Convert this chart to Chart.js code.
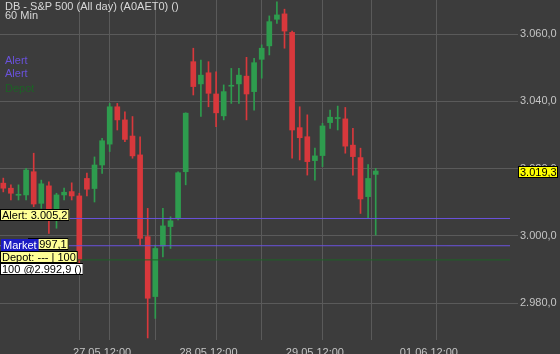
<!DOCTYPE html>
<html><head><meta charset="utf-8">
<script src="https://cdn.jsdelivr.net/npm/chart.js@4/dist/chart.umd.min.js"></script>
<style>
html,body{margin:0;padding:0;background:#3c3c3c;overflow:hidden}
#wrap{position:relative;width:560px;height:354px}
canvas{display:block}
</style></head><body>
<div id="wrap"><canvas id="c" width="560" height="354"></canvas></div>
<script>
// ---- text ----
const titleLines = ['DB - S&P 500 (All day) (A0AET0) ()', '60 Min'];
const legendItems = ['Alert', 'Alert', 'Depot'];
// ---- x axis (hourly candle index) ----
const xLabelPos = [13, 27, 41, 56];
const xLabels = ['27.05 12:00', '28.05 12:00', '29.05 12:00', '01.06 12:00'];
const xGridPos = [11, 15, 25, 29, 39, 43, 54, 58];
// ---- y axis ----
const yTicks = [2980, 3000, 3020, 3040, 3060];
// ---- OHLC series ----
const open = [3015.7, 3014.2, 3012.1, 3012.2, 3019.1, 3009.7, 3014.9, 3007.7, 3012.2, 3013.2,
  3011.9, 3017.1, 3014.1, 3021.1, 3027.3, 3038.4, 3034.5, 3029.7, 3024.1, 2999.8,
  2982.0, 2997.0, 3002.8, 3005.4, 3019.1, 3051.8, 3045.2, 3048.5, 3042.2, 3035.7,
  3044.5, 3045.2, 3047.5, 3042.9, 3052.5, 3056.5, 3064.4, 3066.0, 3060.5, 3032.2,
  3029.5, 3022.4, 3023.9, 3033.7, 3034.9, 3034.8, 3027.0, 3023.3, 3011.7, 3018.3];
const high = [3017.2, 3015.2, 3015.2, 3020.1, 3024.6, 3016.6, 3016.1, 3012.7, 3014.2, 3015.8,
  3012.7, 3018.7, 3023.5, 3029.0, 3039.4, 3039.4, 3036.9, 3035.5, 3029.5, 3008.2,
  2997.3, 3008.2, 3005.7, 3019.1, 3036.6, 3055.8, 3052.3, 3051.8, 3048.8, 3044.9,
  3049.8, 3049.8, 3053.1, 3052.8, 3056.8, 3065.4, 3069.6, 3067.4, 3060.9, 3038.4,
  3036.0, 3026.1, 3033.5, 3037.4, 3038.6, 3038.2, 3032.0, 3026.1, 3021.2, 3020.1];
const low = [3013.1, 3010.7, 3010.7, 3010.7, 3008.7, 3008.2, 3000.8, 3002.3, 3010.7, 3010.7,
  2991.9, 3011.9, 3010.1, 3018.6, 3025.1, 3031.5, 3028.0, 3023.1, 2997.3, 2969.7,
  2975.5, 2993.8, 2996.3, 3004.8, 3015.2, 3041.9, 3035.5, 3038.4, 3032.5, 3034.5,
  3039.4, 3039.4, 3034.5, 3037.4, 3046.9, 3053.8, 3063.2, 3055.8, 3023.1, 3022.6,
  3018.1, 3016.6, 3020.6, 3032.0, 3031.5, 3024.6, 3018.1, 3006.7, 3005.3, 3000.3];
const close = [3014.2, 3012.7, 3012.4, 3019.6, 3009.5, 3015.5, 3007.7, 3012.2, 3013.0, 3011.9,
  2992.9, 3013.9, 3021.1, 3028.3, 3038.4, 3034.5, 3028.7, 3023.8, 2999.3, 2981.5,
  2996.3, 3003.0, 3004.5, 3018.8, 3036.5, 3044.4, 3047.8, 3042.4, 3036.6, 3042.9,
  3044.7, 3047.8, 3042.2, 3051.5, 3055.8, 3063.7, 3065.7, 3060.9, 3031.5, 3029.2,
  3022.1, 3023.8, 3032.7, 3035.3, 3035.1, 3026.7, 3023.6, 3011.0, 3017.1, 3019.3];
// ---- levels ----
const alertLevel = 3005.2;
const marketLevel = 2997.1;
const depotLevel = 2992.9;
const lastPrice = 3019.3;
const depotText = 'Depot: --- | 100';
const positionText = '100 @2.992,9 ()';
const marketText = 'Market';

// ---- styles ----
const FONT = '"Liberation Sans", Arial, sans-serif';
const RED = '#d8383c', GREEN = '#2e9c4e', PURPLE = '#6a52dc', DGREEN = '#1d6226';
const GRID = '#5a5a5a', TICK = '#c4c4c4', TITLE = '#d8d8d8';
Chart.defaults.font.family = FONT;

function fmt(v) {
  const s = Math.abs(v).toFixed(1).split('.');
  const int = s[0].replace(/\B(?=(\d{3})+(?!\d))/g, '.');
  return (v < 0 ? '-' : '') + int + ',' + s[1];
}

const idx = open.map((_, i) => i);
const colors = idx.map(i => close[i] >= open[i] ? GREEN : RED);
const X_MIN = -0.434, X_MAX = 66.67;

function levelLine(v, color) {
  return { type: 'line', data: [{ x: X_MIN - 1, y: v }, { x: X_MAX + 1, y: v }],
    borderColor: color, borderWidth: 1, pointRadius: 0, order: -2, tension: 0 };
}

function box(c, x, top, text, bg, fg, border) {
  const w = c.measureText(text).width + 4;
  c.fillStyle = bg;
  c.fillRect(x, top, w, 12);
  if (border) { c.strokeStyle = '#000'; c.lineWidth = 1; c.strokeRect(x + 0.5, top + 0.5, w - 1, 11); }
  c.fillStyle = fg;
  c.fillText(text, x + 2, top + 6.5);
  return w;
}

const overlay = {
  id: 'overlay',
  afterDraw(chart) {
    const c = chart.ctx, ys = chart.scales.y;
    c.save();
    c.font = '11px ' + FONT;
    c.textBaseline = 'middle';
    c.textAlign = 'left';
    // title
    c.fillStyle = TITLE;
    c.fillText(titleLines[0], 5, 6.5);
    c.fillText(titleLines[1], 5, 15.5);
    // legend
    c.fillStyle = PURPLE; c.fillText(legendItems[0], 5, 60.5);
    c.fillText(legendItems[1], 5, 74);
    c.fillStyle = DGREEN; c.fillText(legendItems[2], 5, 88.5);
    // left labels
    const yA = ys.getPixelForValue(alertLevel);
    const yM = ys.getPixelForValue(marketLevel);
    box(c, 0, Math.round(yA - 9.5), 'Alert: ' + fmt(alertLevel), '#ffff96', '#000', true);
    const mTop = Math.round(yM - 7);
    box(c, 28, mTop - 1, fmt(marketLevel), '#ffff96', '#000', true);
    box(c, 1, mTop, marketText, '#1c1cc4', '#fff', false);
    box(c, 0, mTop + 12, depotText, '#ffff96', '#000', true);
    box(c, 0, mTop + 24, positionText, '#ffffff', '#000', true);
    // last price tag
    const yP = ys.getPixelForValue(lastPrice);
    c.fillStyle = '#ffff00';
    c.fillRect(518, Math.round(yP - 5), 40, 12);
    c.strokeStyle = '#000'; c.lineWidth = 1;
    c.strokeRect(518.5, Math.round(yP - 5) + 0.5, 39, 11);
    c.fillStyle = '#000';
    c.fillText(fmt(lastPrice), 520, Math.round(yP - 5) + 6.5);
    c.restore();
  }
};

new Chart(document.getElementById('c'), {
  type: 'bar',
  data: {
    datasets: [
      levelLine(alertLevel, PURPLE),
      levelLine(marketLevel, PURPLE),
      levelLine(depotLevel, DGREEN),
      { label: 'body', data: idx.map(i => ({ x: i, y: [open[i], close[i]] })),
        backgroundColor: colors, borderWidth: 0, barThickness: 5, minBarLength: 1, grouped: false, order: 0 },
      { label: 'wick', data: idx.map(i => ({ x: i, y: [low[i], high[i]] })),
        backgroundColor: colors, borderWidth: 0, barThickness: 1, grouped: false, order: 1 }
    ]
  },
  options: {
    responsive: false, animation: false,
    layout: { padding: 0 },
    plugins: { legend: { display: false }, tooltip: { enabled: false } },
    scales: {
      x: {
        type: 'linear', min: X_MIN, max: X_MAX, offset: false,
        afterBuildTicks: s => { s.ticks = [...xGridPos, ...xLabelPos].sort((a, b) => a - b).map(v => ({ value: v })); },
        afterFit: s => { s.height = 14; s.paddingLeft = 0; s.paddingRight = 0; },
        grid: { color: ctx => (ctx.tick && xGridPos.includes(ctx.tick.value)) ? GRID : 'rgba(0,0,0,0)', drawTicks: false },
        border: { display: false },
        ticks: { autoSkip: false, maxRotation: 0, padding: 6, color: TICK, font: { size: 11 },
          callback: v => { const k = xLabelPos.indexOf(v); return k >= 0 ? xLabels[k] : ''; } }
      },
      y: {
        position: 'right', min: 2969.09, max: 3070.13,
        afterBuildTicks: s => { s.ticks = yTicks.map(v => ({ value: v })); },
        afterFit: s => { s.width = 50; s.paddingTop = 0; s.paddingBottom = 0; },
        grid: { color: GRID, tickLength: 8 },
        border: { display: false },
        ticks: { padding: 2, color: TICK, font: { size: 11 }, callback: v => fmt(v) }
      }
    }
  },
  plugins: [overlay]
});
</script>
</body></html>
